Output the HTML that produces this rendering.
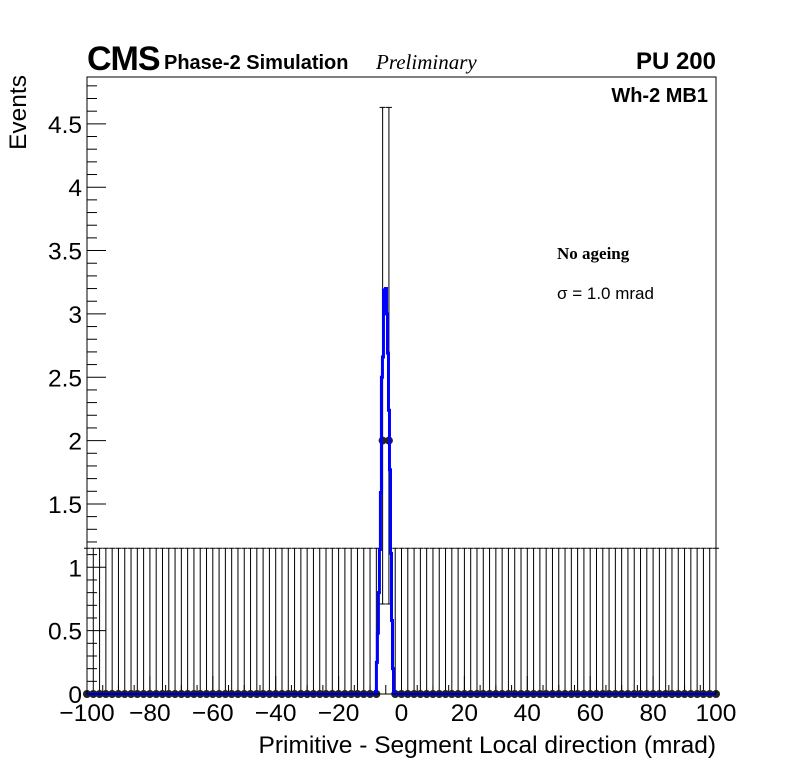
<!DOCTYPE html>
<html><head><meta charset="utf-8"><style>
body{margin:0;background:#fff;}
svg text{font-family:"Liberation Sans",sans-serif;}
</style></head><body>
<svg id="c" width="796" height="772" xmlns="http://www.w3.org/2000/svg">
<rect x="0" y="0" width="796" height="772" fill="#fff"/>
<g id="plot"></g>
<rect x="87" y="77" width="629" height="617" fill="none" stroke="#000" stroke-width="1"/>
<text x="87" y="70" font-size="34" font-weight="bold" style="letter-spacing:-1px">CMS</text>
<text x="164" y="69" font-size="20" font-weight="bold">Phase-2 Simulation</text>
<text x="376" y="69" font-size="21" font-style="italic" style="font-family:'Liberation Serif',serif">Preliminary</text>
<text x="716" y="69" font-size="24" font-weight="bold" text-anchor="end">PU 200</text>
<text x="708" y="102" font-size="20" font-weight="bold" text-anchor="end">Wh-2 MB1</text>
<text x="557" y="259" font-size="17" font-weight="bold" style="font-family:'Liberation Serif',serif">No ageing</text>
<text x="557" y="299" font-size="17">σ = 1.0 mrad</text>
<text x="716" y="753" font-size="24.5" text-anchor="end">Primitive - Segment Local direction (mrad)</text>
<text transform="translate(26,75) rotate(-90)" font-size="24.5" text-anchor="end">Events</text>
</svg>
<script>
const xTicks=[-100,-80,-60,-40,-20,0,20,40,60,80,100];
const yTicks=[0,0.5,1,1.5,2,2.5,3,3.5,4,4.5];
const yTickLabels=["0","0.5","1","1.5","2","2.5","3","3.5","4","4.5"];
const pointCenters=[];for(let v=-100;v<=100;v+=2)pointCenters.push(v);
const pointNonZeroX=[-6,-4];
const pointNonZeroY=[2,2];
const pointNonZeroLow=[0.71,0.71];
const pointNonZeroHigh=[4.63,4.63];
const zeroErrHigh=1.15;
const blueStart=-8.3;
const blueWidth=0.32;
const blueValues=[0.02,0.25,0.48,0.8,1.14,1.59,2.5,2.66,3.19,3.1,3.2,3.0,2.69,2.24,1.77,1.11,0.58,0.2,0.02];

const NS="http://www.w3.org/2000/svg";
const X0=87,X1=716,Y0=694,Y1=77;
const xs=v=>X0+(v+100)/200*(X1-X0);
const ys=v=>Y0-v*126.7;
const g=document.getElementById('plot');
function mk(t,a){const e=document.createElementNS(NS,t);for(const k in a)e.setAttribute(k,a[k]);g.appendChild(e);return e;}

for(let i=0;i<=48;i++){const v=i*0.1;const y=ys(v);if(y<Y1)break;
 const major=i%5===0;
 const t=mk('line',{x1:X0,x2:X0+(major?19:10),y1:y,y2:y,stroke:'#000'});
 
 }
yTicks.forEach((v,i)=>{const t=mk('text',{x:X0-5,y:ys(v)+9,'font-size':24.5,'text-anchor':'end'});t.textContent=yTickLabels[i];
 
 });
for(let v=-100;v<=100;v+=5){const major=v%20===0;const x=xs(v);
 const t=mk('line',{x1:x,x2:x,y1:Y0,y2:Y0-(major?18:9),stroke:'#000'});
 
 }
xTicks.forEach(v=>{const t=mk('text',{x:xs(v),y:Y0+27,'font-size':24.5,'text-anchor':'middle'});t.textContent=(v<0?'\u2212'+(-v):String(v));
 
 });
pointCenters.forEach(c=>{const idx=pointNonZeroX.indexOf(c);
 let y=0,lo=0,hi=zeroErrHigh;if(idx>=0){y=pointNonZeroY[idx];lo=pointNonZeroLow[idx];hi=pointNonZeroHigh[idx];}
 const x=xs(c);
 const e=mk('path',{d:`M${x},${ys(lo)}V${ys(hi)}M${x-3},${ys(hi)}H${x+3}`+(idx>=0?`M${x-3},${ys(lo)}H${x+3}`:''),stroke:'#000','stroke-width':1,fill:'none'});
 
 
 const p=mk('circle',{cx:x,cy:ys(y),r:4,fill:'#222'});
 
 });
let d=`M${xs(-100)},${ys(0)}H${xs(blueStart)}`;
blueValues.forEach((v,i)=>{d+=`V${ys(v)}H${xs(blueStart+(i+1)*blueWidth)}`;});
d+=`V${ys(0)}H${xs(100)}`;
const h=mk('path',{d:d,stroke:'#0000ff','stroke-width':3,fill:'none'});


</script>
</body></html>
